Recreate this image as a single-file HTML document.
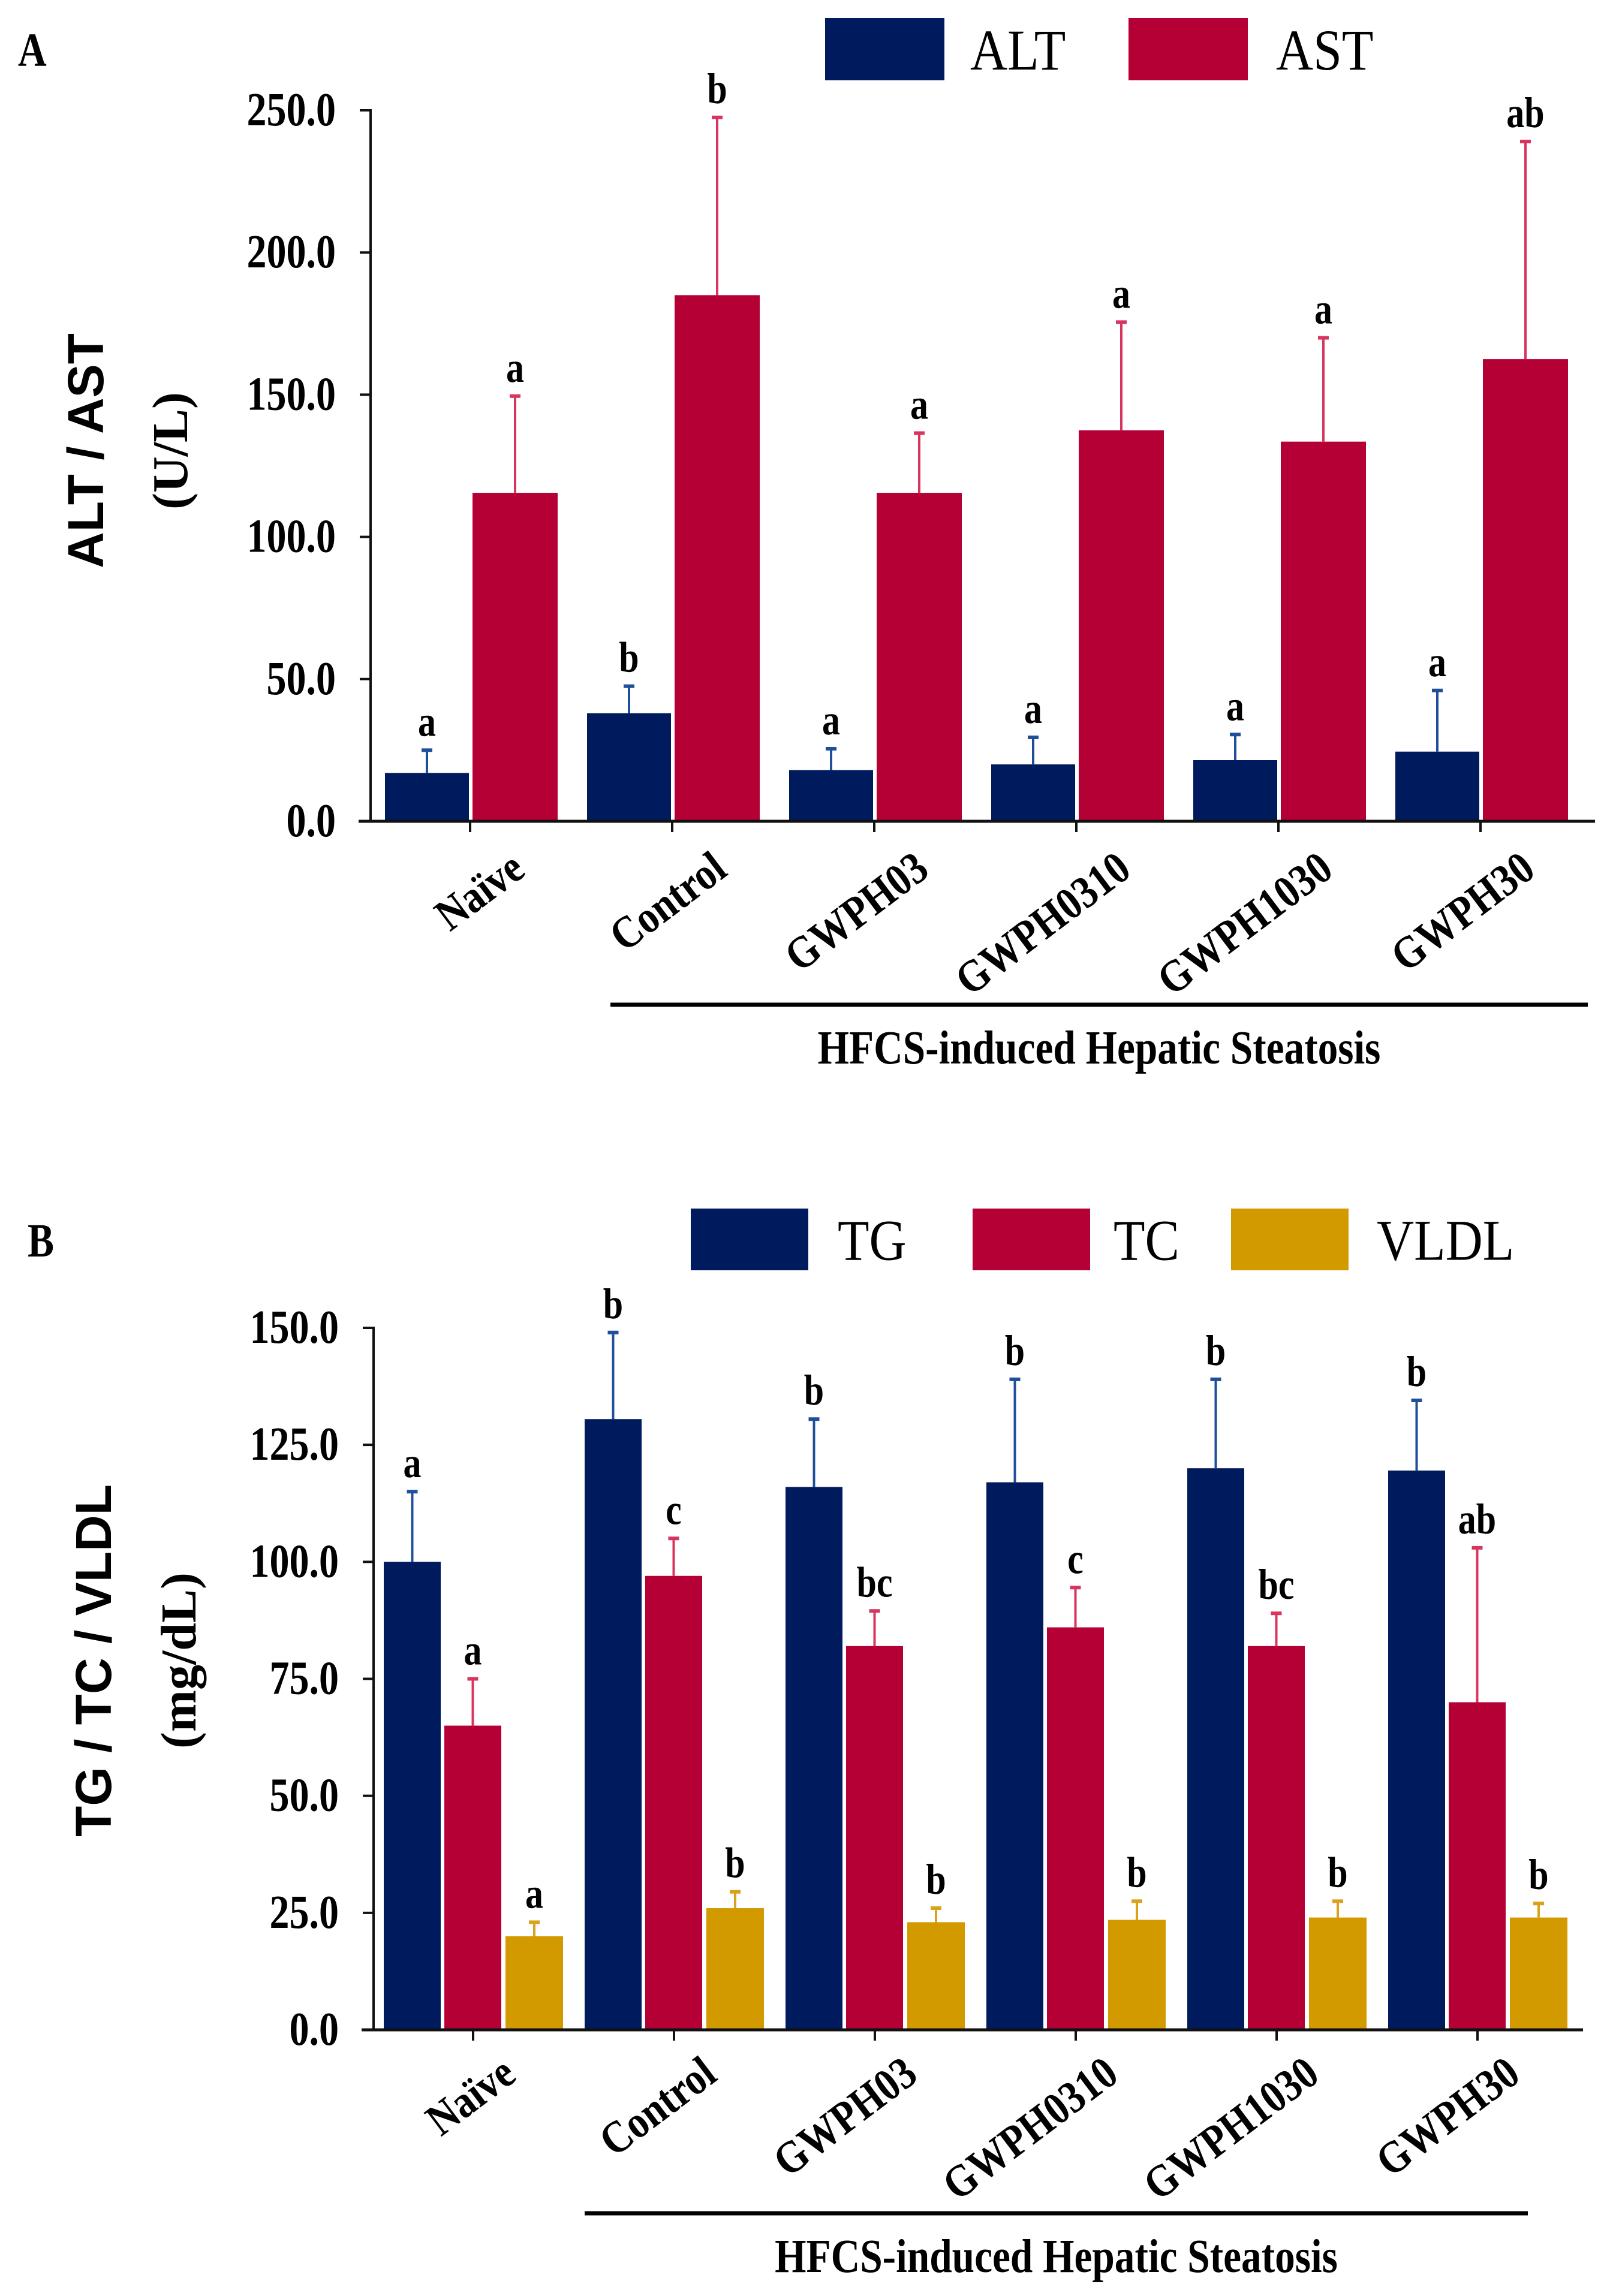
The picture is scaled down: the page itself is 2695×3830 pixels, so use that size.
<!DOCTYPE html>
<html><head><meta charset="utf-8"><style>
html,body{margin:0;padding:0;background:#fff;}
svg{display:block;font-family:"Liberation Serif",serif;font-weight:bold;}
</style></head><body>
<svg id="fig" width="2695" height="3830" viewBox="0 0 2695 3830" xmlns="http://www.w3.org/2000/svg">
<g id="panelA"></g>
<g id="panelB"></g>
</svg>
<script>
const categories = ["Naïve","Control","GWPH03","GWPH0310","GWPH1030","GWPH30"];
// Panel A
const altValues = [17, 38, 18, 20, 21.5, 24.5];
const altErrTop = [25, 47.5, 25.5, 29.5, 30.5, 46];
const altLetters = ["a","b","a","a","a","a"];
const astValues = [115.5, 185, 115.5, 137.5, 133.5, 162.5];
const astErrTop = [149.5, 247.5, 136.5, 175.5, 170, 239];
const astLetters = ["a","b","a","a","a","ab"];
const ticksA = [0, 50, 100, 150, 200, 250];
// Panel B
const tgValues = [100, 130.5, 116, 117, 120, 119.5];
const tgErrTop = [115, 149, 130.5, 139, 139, 134.5];
const tgLetters = ["a","b","b","b","b","b"];
const tcValues = [65, 97, 82, 86, 82, 70];
const tcErrTop = [75, 105, 89.5, 94.5, 89, 103];
const tcLetters = ["a","c","bc","c","bc","ab"];
const vldlValues = [20, 26, 23, 23.5, 24, 24];
const vldlErrTop = [23, 29.5, 26, 27.5, 27.5, 27];
const vldlLetters = ["a","b","b","b","b","b"];
const ticksB = [0, 25, 50, 75, 100, 125, 150];

const NS = "http://www.w3.org/2000/svg";
const NAVY = "#001a5e", RED = "#b50035", GOLD = "#d39a00";
const ERRC = {"#001a5e":"#1f4f9a","#b50035":"#d8355e","#d39a00":"#d9a21a"};
function mk(parent, tag, attrs, text){
  const e = document.createElementNS(NS, tag);
  for (const k in attrs) e.setAttribute(k, attrs[k]);
  if (text !== undefined) e.textContent = text;
  parent.appendChild(e);
  return e;
}
function stretch(x, y, sx, sy, rot){
  let s = "translate(" + x + " " + y + ")";
  if (rot) s += " rotate(" + rot + ")";
  s += " scale(" + sx + " " + sy + ") translate(" + (-x) + " " + (-y) + ")";
  return s;
}

function drawPanel(g, cfg){
  const yS = v => cfg.y0 - (v - 0) * (cfg.y0 - cfg.yTop) / cfg.vmax;
  const xG = i => cfg.x0 + i * cfg.gw;
  cfg.series.forEach((s, si) => {
    categories.forEach((c, i) => {
      const x = xG(i) + s.off;
      const yv = yS(s.values[i]);
      const r = mk(g, "rect", {x: x, y: yv, width: s.w, height: cfg.y0 - yv, fill: s.color});
      
      
      const cx = x + s.w / 2;
      const ye = yS(s.err[i]);
      const el = mk(g, "line", {x1: cx, y1: yv, x2: cx, y2: ye, stroke: ERRC[s.color], "stroke-width": 4});
      
      
      const cap = mk(g, "line", {x1: cx - 9, y1: ye, x2: cx + 9, y2: ye, stroke: ERRC[s.color], "stroke-width": 6});
      
      
      const ty = ye - 24;
      const t = mk(g, "text", {x: cx, y: ty, "text-anchor": "middle", "font-size": 60, fill: "#000", transform: stretch(cx, ty, 1, 1.2)}, s.letters[i]);
      
      
    });
  });
  const ya = mk(g, "line", {x1: cfg.x0, y1: cfg.yTop - 2, x2: cfg.x0, y2: cfg.y0 + 2, stroke: "#111", "stroke-width": 4});
  
  
  const xa = mk(g, "line", {x1: cfg.x0 - 20, y1: cfg.y0, x2: cfg.xEnd, y2: cfg.y0, stroke: "#111", "stroke-width": 5});
  
  
  cfg.ticks.forEach(v => {
    const y = yS(v);
    mk(g, "line", {x1: cfg.x0 - 18, y1: y, x2: cfg.x0, y2: y, stroke: "#111", "stroke-width": 4});
    const tx = cfg.x0 - 58, ty = y + 25;
    const t = mk(g, "text", {x: tx, y: ty, "text-anchor": "end", "font-size": 66, transform: stretch(tx, ty, 1, 1.2)}, v.toFixed(1));
    
    
  });
  categories.forEach((c, i) => {
    const tx = xG(i) + cfg.tickOff;
    mk(g, "line", {x1: tx, y1: cfg.y0, x2: tx, y2: cfg.y0 + 18, stroke: "#111", "stroke-width": 4});
    const ax = tx + cfg.labDx, ay = cfg.labY;
    const t = mk(g, "text", {x: ax, y: ay, "text-anchor": "end", "font-size": 66, transform: stretch(ax, ay, 1, 1.15, -37)}, c);
    
    
  });
  const br = mk(g, "line", {x1: cfg.brX1, y1: cfg.brY, x2: cfg.brX2, y2: cfg.brY, stroke: "#000", "stroke-width": 7});
  
  
  const bx = (cfg.brX1 + cfg.brX2) / 2, by = cfg.brY + 98;
  const bt = mk(g, "text", {x: bx, y: by, "text-anchor": "middle", "font-size": 66, transform: stretch(bx, by, 1.02, 1.2)}, "HFCS-induced Hepatic Steatosis");
  
  
  const yt = mk(g, "text", {x: cfg.ytX1, y: cfg.ytY, "text-anchor": "middle", "font-size": 84, "font-family": "Liberation Sans, sans-serif", transform: "rotate(-90 " + cfg.ytX1 + " " + cfg.ytY + ")"}, cfg.ytitle1);
  
  
  const yu = mk(g, "text", {x: cfg.ytX2, y: cfg.ytY, "text-anchor": "middle", "font-size": 84, transform: "rotate(-90 " + cfg.ytX2 + " " + cfg.ytY + ")"}, cfg.ytitle2);
  
  
  const pl = mk(g, "text", {x: cfg.plX, y: cfg.plY, "font-size": 66, transform: stretch(cfg.plX, cfg.plY, 1, 1.2)}, cfg.panel);
  
  
  cfg.legend.forEach(L => {
    const r = mk(g, "rect", {x: L.x, y: cfg.legY, width: L.w, height: cfg.legH, fill: L.color});
    
    
    const ly = cfg.legY + cfg.legH / 2 + 34;
    const t = mk(g, "text", {x: L.tx, y: ly, "font-size": 86, "font-weight": "normal", transform: stretch(L.tx, ly, 1, 1.12)}, L.name);
    
    
  });
}

drawPanel(document.getElementById("panelA"), {
  x0: 618, gw: 337, y0: 1370, yTop: 184, vmax: 250, xEnd: 2660, ticks: ticksA,
  tickOff: 166, labDx: 95, labY: 1458,
  series: [
    {name: "ALT", values: altValues, err: altErrTop, letters: altLetters, color: NAVY, off: 24, w: 140},
    {name: "AST", values: astValues, err: astErrTop, letters: astLetters, color: RED, off: 170, w: 142}
  ],
  brX1: 1018, brX2: 2648, brY: 1676,
  ytX1: 172, ytX2: 312, ytY: 752, ytitle1: "ALT / AST", ytitle2: "(U/L)",
  plX: 30, plY: 110, panel: "A",
  legY: 30, legH: 104,
  legend: [
    {name: "ALT", x: 1376, w: 199, tx: 1618, color: NAVY},
    {name: "AST", x: 1882, w: 199, tx: 2128, color: RED}
  ]
});

drawPanel(document.getElementById("panelB"), {
  x0: 623, gw: 335, y0: 3386, yTop: 2215, vmax: 150, xEnd: 2640, ticks: ticksB,
  tickOff: 166, labDx: 75, labY: 3468,
  series: [
    {name: "TG", values: tgValues, err: tgErrTop, letters: tgLetters, color: NAVY, off: 17, w: 95},
    {name: "TC", values: tcValues, err: tcErrTop, letters: tcLetters, color: RED, off: 118, w: 95},
    {name: "VLDL", values: vldlValues, err: vldlErrTop, letters: vldlLetters, color: GOLD, off: 220, w: 96}
  ],
  brX1: 975, brX2: 2548, brY: 3692,
  ytX1: 185, ytX2: 326, ytY: 2770, ytitle1: "TG / TC / VLDL", ytitle2: "(mg/dL)",
  plX: 46, plY: 2096, panel: "B",
  legY: 2016, legH: 103,
  legend: [
    {name: "TG", x: 1152, w: 196, tx: 1397, color: NAVY},
    {name: "TC", x: 1622, w: 196, tx: 1857, color: RED},
    {name: "VLDL", x: 2053, w: 196, tx: 2296, color: GOLD}
  ]
});
</script>
</body></html>
